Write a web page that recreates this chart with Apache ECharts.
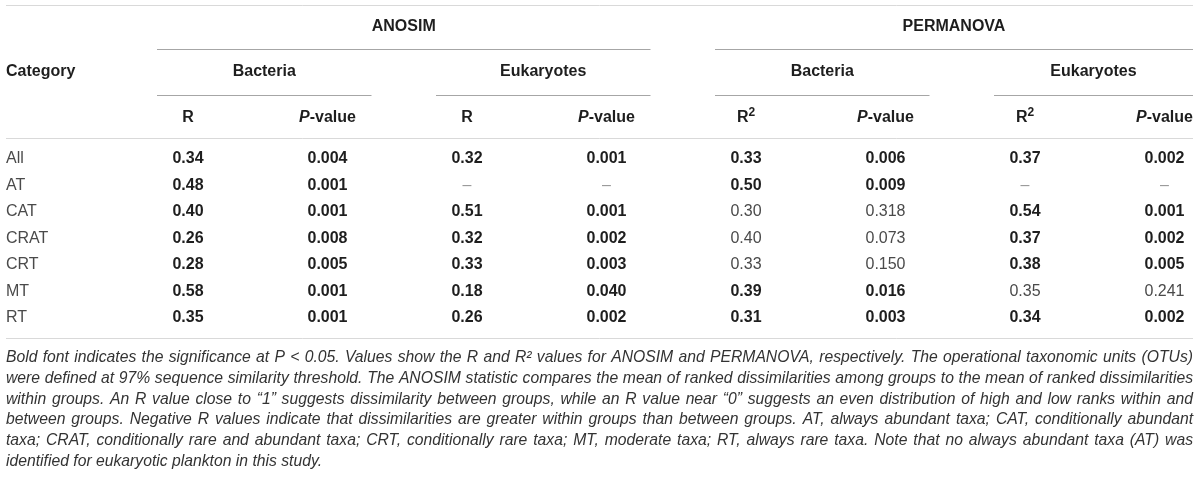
<!DOCTYPE html>
<html>
<head>
<meta charset="utf-8">
<title>ANOSIM / PERMANOVA</title>
<script src="https://cdn.jsdelivr.net/npm/echarts@6/dist/echarts.min.js"></script>
<style>
    html, body { margin: 0; padding: 0; background: #fff; }
    #main { width: 1200px; height: 478px; }
</style>
</head>
<body>
<div id="main"></div>
<script>
// table data
const categories = ['All', 'AT', 'CAT', 'CRAT', 'CRT', 'MT', 'RT'];
const methods = ['ANOSIM', 'PERMANOVA'];
const groups = ['Bacteria', 'Eukaryotes'];
const columnKeys = ['aBR', 'aBP', 'aER', 'aEP', 'pBR', 'pBP', 'pER', 'pEP'];
const statLabels = ['R', 'P', 'R', 'P', 'R2', 'P', 'R2', 'P'];

const anosimBacteriaR = ['0.34', '0.48', '0.40', '0.26', '0.28', '0.58', '0.35'];
const anosimBacteriaP = ['0.004', '0.001', '0.001', '0.008', '0.005', '0.001', '0.001'];
const anosimEukaryotesR = ['0.32', null, '0.51', '0.32', '0.33', '0.18', '0.26'];
const anosimEukaryotesP = ['0.001', null, '0.001', '0.002', '0.003', '0.040', '0.002'];
const permanovaBacteriaR2 = ['0.33', '0.50', '0.30', '0.40', '0.33', '0.39', '0.31'];
const permanovaBacteriaP = ['0.006', '0.009', '0.318', '0.073', '0.150', '0.016', '0.003'];
const permanovaEukaryotesR2 = ['0.37', null, '0.54', '0.37', '0.38', '0.35', '0.34'];
const permanovaEukaryotesP = ['0.002', null, '0.001', '0.002', '0.005', '0.241', '0.002'];

const footnoteLines = [
    'Bold font indicates the significance at P < 0.05. Values show the R and R\u00b2 values for ANOSIM and PERMANOVA, respectively. The operational taxonomic units (OTUs)',
    'were defined at 97% sequence similarity threshold. The ANOSIM statistic compares the mean of ranked dissimilarities among groups to the mean of ranked dissimilarities',
    'within groups. An R value close to \u201c1\u201d suggests dissimilarity between groups, while an R value near \u201c0\u201d suggests an even distribution of high and low ranks within and',
    'between groups. Negative R values indicate that dissimilarities are greater within groups than between groups. AT, always abundant taxa; CAT, conditionally abundant',
    'taxa; CRAT, conditionally rare and abundant taxa; CRT, conditionally rare taxa; MT, moderate taxa; RT, always rare taxa. Note that no always abundant taxa (AT) was',
    'identified for eukaryotic plankton in this study.',
];

const FONT = '"Liberation Sans", Arial, Helvetica, sans-serif';
const DARK = '#1e1e1e';
const LIGHT = '#4a4a4a';

// build cells: a pair is bold when its P-value < 0.05
const pairs = [
    [anosimBacteriaR, anosimBacteriaP],
    [anosimEukaryotesR, anosimEukaryotesP],
    [permanovaBacteriaR2, permanovaBacteriaP],
    [permanovaEukaryotesR2, permanovaEukaryotesP],
];
const cells = [];
pairs.forEach(([stat, pval], j) => {
    categories.forEach((c, i) => {
        const sig = pval[i] !== null && parseFloat(pval[i]) < 0.05;
        cells.push({ value: [j * 2, i], text: stat[i] === null ? '\u2013' : stat[i], bold: sig, missing: stat[i] === null });
        cells.push({ value: [j * 2 + 1, i], text: pval[i] === null ? '\u2013' : pval[i], bold: sig, missing: pval[i] === null });
    });
});

const chart = echarts.init(document.getElementById('main'));

chart.setOption({
    backgroundColor: '#fff',
    animation: false,
    grid: {
        left: 188,
        right: 35.5,
        top: 159,
        bottom: 160,
        outerBoundsMode: 'none',
    },
    xAxis: {
        type: 'category',
        position: 'top',
        data: columnKeys,
        boundaryGap: false,
        axisLine: { show: false },
        axisTick: { show: false },
        splitLine: { show: false },
        axisLabel: {
            interval: 0,
            margin: 41,
            verticalAlign: 'middle',
            formatter: (v, i) => {
                if (statLabels[i] === 'P') return '{i|P}{b|-value}';
                if (statLabels[i] === 'R2') return '{b|R}{s|2}';
                return '{b|R}';
            },
            rich: {
                b: { fontFamily: FONT, fontSize: 16, fontWeight: 'bold', color: DARK, lineHeight: 20 },
                i: { fontFamily: FONT, fontSize: 16, fontWeight: 'bold', fontStyle: 'italic', color: DARK, lineHeight: 20 },
                s: { fontFamily: FONT, fontSize: 12, fontWeight: 'bold', color: DARK, lineHeight: 20, padding: [0, 0, 10, 0] },
            },
        },
    },
    yAxis: {
        type: 'category',
        data: categories,
        inverse: true,
        boundaryGap: false,
        axisLine: { show: false },
        axisTick: { show: false },
        splitLine: { show: false },
        axisLabel: {
            interval: 0,
            margin: 182,
            align: 'left',
            fontFamily: FONT,
            fontSize: 16,
            color: LIGHT,
        },
    },
    series: [{
        type: 'custom',
        data: cells.map(c => c.value),
        renderItem: function(params, api) {
            const p = api.coord([api.value(0), api.value(1)]);
            const cell = cells[params.dataIndex];
            return {
                type: 'text',
                x: p[0],
                y: p[1],
                style: {
                    text: cell.text,
                    align: 'center',
                    verticalAlign: 'middle',
                    fontFamily: FONT,
                    fontSize: 16,
                    fontWeight: cell.bold ? 'bold' : 'normal',
                    fill: cell.missing ? '#999' : (cell.bold ? DARK : LIGHT),
                },
            };
        },
    }],
});

// header rows, rules and footnote
const tableLeft = 6;
const tableRight = 1193;
const xAt = i => chart.convertToPixel({ xAxisIndex: 0 }, columnKeys[i]);

const graphics = [];
const rule = (x1, x2, y, color) => {
    graphics.push({
        type: 'line',
        shape: { x1: x1, y1: y + 0.5, x2: x2, y2: y + 0.5 },
        style: { stroke: color, lineWidth: 1 },
        silent: true,
    });
};
const label = (text, x, y, align, opts) => {
    graphics.push({
        type: 'text',
        x: x,
        y: y,
        silent: true,
        style: Object.assign({
            text: text,
            align: align,
            verticalAlign: 'middle',
            fontFamily: FONT,
            fontSize: 16,
            fontWeight: 'bold',
            fill: DARK,
        }, opts || {}),
    });
};

rule(tableLeft, tableRight, 5, '#d9d9d9');
rule(tableLeft, tableRight, 138, '#d9d9d9');
rule(tableLeft, tableRight, 338, '#d9d9d9');
label('Category', tableLeft, 72, 'left');

methods.forEach((m, mi) => {
    let spanStart = null;
    let spanEnd = null;
    groups.forEach((g, gi) => {
        const col = mi * 4 + gi * 2;
        const x0 = xAt(col) - 31;
        const x1 = Math.min(xAt(col + 1) + 44, tableRight);
        if (spanStart === null) spanStart = x0;
        spanEnd = x1;
        rule(x0, x1, 95, '#a6a6a6');
        label(g, (x0 + x1) / 2, 72, 'center');
    });
    rule(spanStart, spanEnd, 49, '#a6a6a6');
    label(m, (spanStart + spanEnd) / 2, 27, 'center');
});

// justified italic footnote
const ctx = document.createElement('canvas').getContext('2d');
const measure = (t, fs) => {
    ctx.font = 'italic ' + fs + 'px ' + FONT;
    return ctx.measureText(t).width;
};
const available = tableRight - tableLeft;
let noteSize = 16;
footnoteLines.slice(0, -1).forEach(line => {
    const w = measure(line, 16);
    noteSize = Math.min(noteSize, 16 * available / w * 0.995);
});
const lineY = [358, 379, 400, 420, 441, 462];
footnoteLines.forEach((line, li) => {
    const words = line.split(' ');
    const widths = words.map(w => measure(w, noteSize));
    const total = widths.reduce((a, b) => a + b, 0);
    const last = li === footnoteLines.length - 1;
    const gap = last ? measure(' ', noteSize) : (available - total) / (words.length - 1);
    let x = tableLeft;
    words.forEach((w, wi) => {
        label(w, x, lineY[li], 'left', { fontSize: noteSize, fontWeight: 'normal', fontStyle: 'italic', fill: '#333' });
        x += widths[wi] + gap;
    });
});

chart.setOption({ graphic: graphics });

window.addEventListener('resize', function() {
    chart.resize();
});
</script>
</body>
</html>
